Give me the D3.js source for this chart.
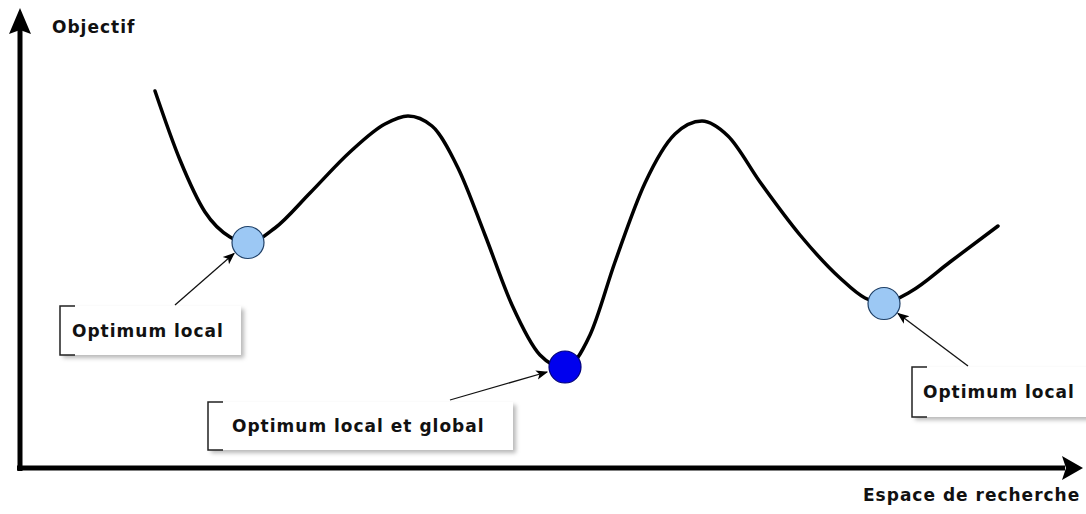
<!DOCTYPE html>
<html>
<head>
<meta charset="utf-8">
<script src="https://cdn.jsdelivr.net/npm/d3@7"></script>
<style>
    html, body { margin: 0; padding: 0; background: #fff; }
    #graph { width: 1086px; height: 514px; }
    text { font-family: "DejaVu Sans", sans-serif; font-weight: bold; fill: #111; }
</style>
</head>
<body>
<div id="graph"></div>
<script>
// objective landscape, search position / objective value
var searchPos = [135, 160, 185, 210, 228, 255, 290, 330, 365, 388, 412, 438, 465, 492, 520,
                 545, 570, 595, 625, 655, 682, 708, 740, 780, 820, 845, 864, 890, 930, 978];
var objective = [377, 308, 256, 231, 225, 240, 275, 316, 344, 352, 342, 300, 233, 163, 113,
                 100, 133, 206, 285, 334, 347, 332, 286, 233, 190, 170, 165, 176, 206, 242];

// optima marked on the curve
var optimaPos = [228, 545, 864];
var optimaObj = [225.5, 101, 164.5];
var optimaGlobal = [false, true, false];
var optimaLabels = ["Optimum local", "Optimum local et global", "Optimum local"];

var axisLabels = ["Objectif", "Espace de recherche"];

function load() {
    var width = 1086;
    var height = 514;

    var svg = d3.select("#graph")
        .append("svg")
        .attr("width", width)
        .attr("height", height);

    var x = d3.scaleLinear().domain([0, 1060]).range([20, 1080]);
    var y = d3.scaleLinear().domain([0, 460]).range([468, 8]);

    var defs = svg.append("defs");
    var shadow = defs.append("filter")
        .attr("id", "shadow")
        .attr("x", "-10%").attr("y", "-20%")
        .attr("width", "130%").attr("height", "160%");
    shadow.append("feDropShadow")
        .attr("dx", 3).attr("dy", 3)
        .attr("stdDeviation", 2)
        .attr("flood-color", "#000")
        .attr("flood-opacity", 0.28);

    defs.append("marker")
        .attr("id", "tip")
        .attr("viewBox", "0 0 10 10")
        .attr("refX", 9).attr("refY", 5)
        .attr("markerWidth", 12).attr("markerHeight", 12)
        .attr("markerUnits", "userSpaceOnUse")
        .attr("orient", "auto")
        .append("path")
        .attr("d", "M0,1 L10,5 L0,9 L2.5,5 Z")
        .attr("fill", "#000");

    // axes
    var x0 = x(0), y0 = y(0);
    svg.append("line")
        .attr("x1", x0).attr("y1", y0 + 3)
        .attr("x2", x0).attr("y2", y(440))
        .attr("stroke", "#000").attr("stroke-width", 5);
    svg.append("line")
        .attr("x1", x0 - 3).attr("y1", y0)
        .attr("x2", x(1045)).attr("y2", y0)
        .attr("stroke", "#000").attr("stroke-width", 5);

    // arrow heads
    svg.append("path")
        .attr("d", "M" + x0 + "," + y(460) + " L" + (x0 + 11) + "," + y(434) +
                   " L" + x0 + "," + y(438) + " L" + (x0 - 11) + "," + y(434) + " Z")
        .attr("fill", "#000");
    svg.append("path")
        .attr("d", "M" + x(1063) + "," + y0 + " L" + x(1042) + "," + (y0 - 12) +
                   " L" + x(1046) + "," + y0 + " L" + x(1042) + "," + (y0 + 12) + " Z")
        .attr("fill", "#000");

    svg.append("text")
        .attr("x", 52).attr("y", 33)
        .style("font-size", "17px").style("letter-spacing", "1px")
        .text(axisLabels[0]);
    svg.append("text")
        .attr("x", 863).attr("y", 501)
        .style("font-size", "17px").style("letter-spacing", "1px")
        .text(axisLabels[1]);

    // the curve
    var pts = searchPos.map(function(s, i) { return [s, objective[i]]; });
    var line = d3.line()
        .x(function(d) { return x(d[0]); })
        .y(function(d) { return y(d[1]); })
        .curve(d3.curveMonotoneX);

    svg.append("path")
        .datum(pts)
        .attr("fill", "none")
        .attr("stroke", "#000")
        .attr("stroke-width", 3.5)
        .attr("stroke-linecap", "round")
        .attr("d", line);

    // annotation layout: box rect, text offset, arrow tail
    var boxes = [
        {left: 60, top: 306, w: 181, h: 49, tx: 12, tail: [175, 305], tip: [-14, 11]},
        {left: 208, top: 402, w: 305, h: 48, tx: 24, tail: [450, 400], tip: [-18, 5]},
        {left: 912, top: 367, w: 185, h: 50, tx: 11, tail: [968, 366], tip: [14, 10]}
    ];

    var ann = svg.selectAll(".annotation")
        .data(optimaLabels)
        .enter()
        .append("g")
        .attr("class", "annotation");

    ann.append("rect")
        .attr("x", function(d, i) { return boxes[i].left; })
        .attr("y", function(d, i) { return boxes[i].top; })
        .attr("width", function(d, i) { return boxes[i].w; })
        .attr("height", function(d, i) { return boxes[i].h; })
        .attr("fill", "#fff")
        .attr("filter", "url(#shadow)");

    ann.append("path")
        .attr("d", function(d, i) {
            var b = boxes[i];
            return "M" + (b.left + 15) + "," + b.top + " H" + b.left +
                   " V" + (b.top + b.h) + " H" + (b.left + 15);
        })
        .attr("fill", "none")
        .attr("stroke", "#222")
        .attr("stroke-width", 1.5);

    ann.append("text")
        .attr("x", function(d, i) { return boxes[i].left + boxes[i].tx; })
        .attr("y", function(d, i) { return boxes[i].top + boxes[i].h / 2 + 6; })
        .style("font-size", "17px").style("letter-spacing", "1px")
        .text(function(d) { return d; });

    ann.append("line")
        .attr("x1", function(d, i) { return boxes[i].tail[0]; })
        .attr("y1", function(d, i) { return boxes[i].tail[1]; })
        .attr("x2", function(d, i) { return x(optimaPos[i]) + boxes[i].tip[0]; })
        .attr("y2", function(d, i) { return y(optimaObj[i]) + boxes[i].tip[1]; })
        .attr("stroke", "#111")
        .attr("stroke-width", 1.3)
        .attr("marker-end", "url(#tip)");

    // optima points
    svg.selectAll(".optimum")
        .data(optimaPos)
        .enter()
        .append("circle")
        .attr("class", "optimum")
        .attr("cx", function(d) { return x(d); })
        .attr("cy", function(d, i) { return y(optimaObj[i]); })
        .attr("r", 16)
        .attr("fill", function(d, i) { return optimaGlobal[i] ? "#0000ee" : "#9cc8f4"; })
        .attr("stroke", function(d, i) { return optimaGlobal[i] ? "#00007a" : "#1e3f66"; })
        .attr("stroke-width", 1.2);
}

load();
</script>
</body>
</html>
